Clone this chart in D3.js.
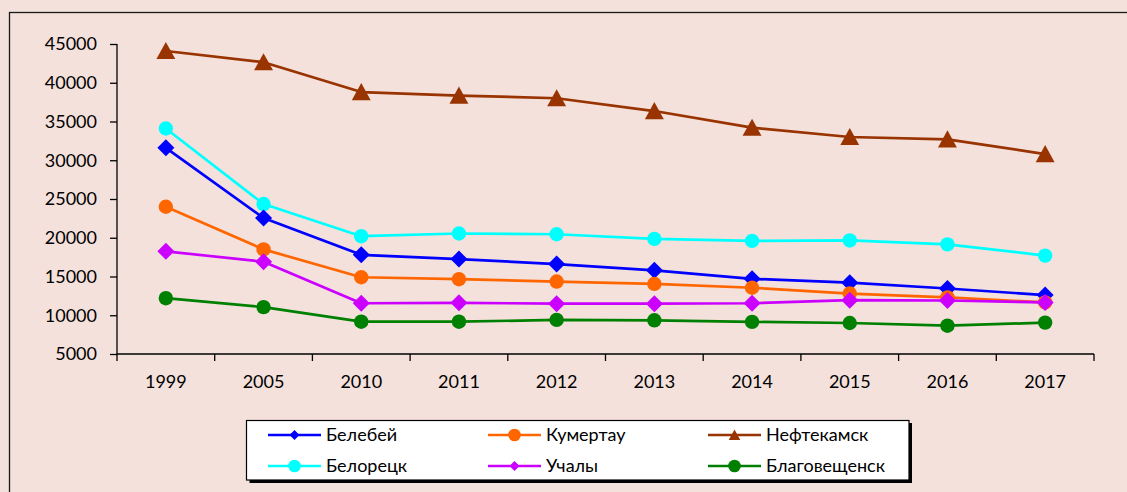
<!DOCTYPE html>
<html><head><meta charset="utf-8">
<script src="https://cdn.jsdelivr.net/npm/d3@7"></script>
<style>
html,body{margin:0;padding:0;background:#F4E1DB;}
svg{display:block;}
text{font-family:Lato,"Open Sans",sans-serif;fill:#000;}
</style></head>
<body>
<svg id="c" width="1127" height="492"></svg>
<script>
const years = ["1999","2005","2010","2011","2012","2013","2014","2015","2016","2017"];
const belebey      = [31600,22550,17800,17250,16600,15800,14700,14200,13450,12600];
const kumertau     = [24000,18500,14900,14650,14350,14050,13550,12800,12300,11650];
const neftekamsk   = [44100,42650,38800,38350,38000,36350,34200,33000,32700,30800];
const beloretsk    = [34100,24350,20200,20550,20450,19850,19600,19650,19150,17700];
const uchaly       = [18250,16900,11550,11600,11500,11500,11550,11950,11900,11650];
const blagoveshch  = [12200,11050, 9170, 9170, 9400, 9350, 9150, 9000, 8650, 9050];
const yTicks = [5000,10000,15000,20000,25000,30000,35000,40000,45000];

const series = [
  {name:"Белебей", values:belebey, color:"#0000FF", marker:"diamond"},
  {name:"Кумертау", values:kumertau, color:"#FF6600", marker:"circle"},
  {name:"Нефтекамск", values:neftekamsk, color:"#993300", marker:"triangle"},
  {name:"Белорецк", values:beloretsk, color:"#00FFFF", marker:"circle"},
  {name:"Учалы", values:uchaly, color:"#CC00FF", marker:"diamond"},
  {name:"Благовещенск", values:blagoveshch, color:"#008000", marker:"circle"}
];
// draw order (back to front)
const drawOrder = ["Нефтекамск","Белорецк","Белебей","Кумертау","Учалы","Благовещенск"];

const svg = d3.select("#c");
// outer frame
svg.append("rect").attr("x",9.5).attr("y",12.5).attr("width",1200).attr("height",600)
  .attr("fill","none").attr("stroke","#1a1a1a").attr("stroke-width",1.3);

const x = d3.scaleBand().domain(years).range([117,1094]).padding(0);
const y = d3.scaleLinear().domain([5000,45000]).range([354,44]);
const cx = d => x(d) + x.bandwidth()/2;

// Y axis
const yAxis = svg.append("g").attr("transform","translate(117,0)")
  .call(d3.axisLeft(y).tickValues(yTicks).tickSize(7).tickPadding(13).tickFormat(d3.format("d")));
yAxis.select(".domain").attr("d","M0,44V354").attr("stroke","#000").attr("stroke-width",1.3);
yAxis.selectAll(".tick line").attr("stroke","#000").attr("stroke-width",1.3);
yAxis.selectAll("text").style("font-family","Lato").style("font-size","18px").attr("fill","#000");

// X axis
const xAxis = svg.append("g").attr("transform","translate(0,354)")
  .call(d3.axisBottom(x).tickSize(0).tickPadding(21));
xAxis.select(".domain").attr("d","M117,0H1094").attr("stroke","#000").attr("stroke-width",1.3);
xAxis.selectAll("text").style("font-family","Lato").style("font-size","18px").attr("fill","#000");
const bounds = years.map(d => x(d)).concat([x.range()[1]]);
xAxis.selectAll("line.bt").data(bounds).enter().append("line").attr("class","bt")
  .attr("x1",d=>d).attr("x2",d=>d).attr("y1",0).attr("y2",7)
  .attr("stroke","#000").attr("stroke-width",1.3);

function markerPath(type, s){
  if(type==="diamond") return `M0,${-s}L${s},0L0,${s}L${-s},0Z`;
  if(type==="triangle") return `M0,${-s}L${s*1.05},${s*0.9}L${-s*1.05},${s*0.9}Z`;
  return d3.symbol(d3.symbolCircle, Math.PI*s*s)();
}
const markerSize = {diamond:8.5, circle:7.2, triangle:9};

const line = d3.line().x((d,i)=>cx(years[i])).y(d=>y(d));
const g = svg.append("g");
drawOrder.forEach(nm=>{
  const s = series.find(t=>t.name===nm);
  g.append("path").attr("d",line(s.values)).attr("fill","none")
    .attr("stroke",s.color).attr("stroke-width",2.7).attr("stroke-linejoin","round");
  g.selectAll(null).data(s.values).enter().append("path")
    .attr("transform",(d,i)=>`translate(${cx(years[i])},${y(d) + (s.marker==="triangle"?0:0)})`)
    .attr("d",markerPath(s.marker, markerSize[s.marker]))
    .attr("fill",s.color);
});

// Legend
const lg = svg.append("g");
lg.append("rect").attr("x",249.5).attr("y",423).attr("width",662.5).attr("height",60).attr("fill","#000");
lg.append("rect").attr("x",246.5).attr("y",420.5).attr("width",662.5).attr("height",59.5)
  .attr("fill","#fff").attr("stroke","#000").attr("stroke-width",1.2);
const legMarker = {diamond:5, circle:6.3, triangle:5.5};
series.forEach((s,i)=>{
  const col = i%3, row = Math.floor(i/3);
  const lx = 268 + col*220, ly = 435 + row*31;
  lg.append("line").attr("x1",lx).attr("x2",lx+53).attr("y1",ly).attr("y2",ly)
    .attr("stroke",s.color).attr("stroke-width",2.7);
  lg.append("path").attr("transform",`translate(${lx+26.5},${ly})`)
    .attr("d",markerPath(s.marker, legMarker[s.marker])).attr("fill",s.color);
  lg.append("text").attr("x",lx+58).attr("y",ly).attr("dy","0.36em")
    .style("font-size","18px").text(s.name);
});
</script>
</body></html>
